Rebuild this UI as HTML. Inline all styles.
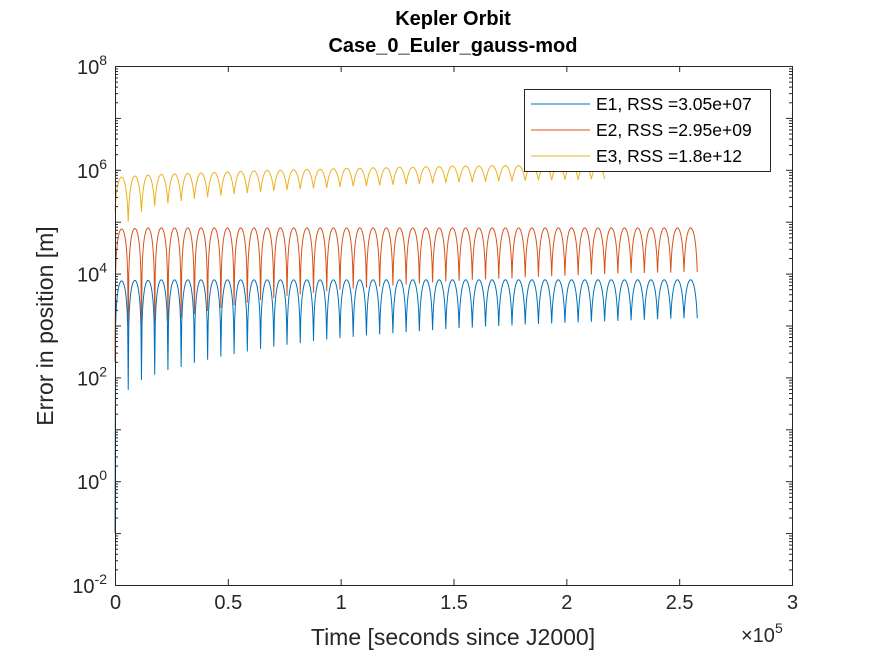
<!DOCTYPE html>
<html><head><meta charset="utf-8">
<style>
body{margin:0;background:#fff;}
svg{display:block;font-family:"Liberation Sans",sans-serif;}
</style></head>
<body>
<svg id="chart" width="875" height="656" viewBox="0 0 875 656">
  <rect width="875" height="656" fill="#fff"/>
  <text x="453" y="25" text-anchor="middle" font-size="20" font-weight="bold" fill="#000">Kepler Orbit</text>
  <text x="453" y="52" text-anchor="middle" font-size="20" font-weight="bold" fill="#000">Case_0_Euler_gauss-mod</text>
  <g id="plot"></g>
  <g id="axes"></g>
  <text x="453" y="645" text-anchor="middle" font-size="23" fill="#262626">Time [seconds since J2000]</text>
  <text x="0" y="0" transform="translate(53,326) rotate(-90)" text-anchor="middle" font-size="23" fill="#262626">Error in position [m]</text>
  <text x="741" y="642" font-size="20" fill="#262626">×10<tspan font-size="14" dy="-9">5</tspan></text>
  <g>
    <rect x="524.5" y="89.5" width="246" height="82" fill="#fff" stroke="#262626" stroke-width="1"/>
    <line x1="531" y1="104" x2="590" y2="104" stroke="#0072BD"/>
    <text x="596" y="110" font-size="17.5" fill="#000">E1, RSS =3.05e+07</text>
    <line x1="531" y1="130" x2="590" y2="130" stroke="#D95319"/>
    <text x="596" y="136" font-size="17.5" fill="#000">E2, RSS =2.95e+09</text>
    <line x1="531" y1="156" x2="590" y2="156" stroke="#EDB120"/>
    <text x="596" y="162" font-size="17.5" fill="#000">E3, RSS =1.8e+12</text>
  </g>
</svg>
<script>
// ---- data ----
const xTicks = [0, 0.5, 1, 1.5, 2, 2.5, 3];          // ×1e5 s
const xTickLabels = ["0","0.5","1","1.5","2","2.5","3"];
const yTickExps = [-2, 0, 2, 4, 6, 8];
const orbitPeriod = 5864;     // seconds
const startLog = [-1.0, 2.3, 5.2];   // log10 error at t=0 for E1,E2,E3
const e1TroughLog = [1.47,1.76,1.95,2.05,2.14,2.2,2.28,2.34,2.4,2.45,2.5,2.55,2.59,2.63,2.66,2.7,2.73,2.76,2.78,2.81,2.83,2.85,2.87,2.89,2.91,2.93,2.95,2.96,2.98,2.99,3.0,3.02,3.03,3.04,3.05,3.06,3.07,3.08,3.09,3.1,3.11,3.12,3.13,3.14];
const e1PeakLog = [3.86,3.87,3.87,3.88,3.88,3.88,3.88,3.88,3.88,3.88,3.88,3.88,3.88,3.88,3.88,3.88,3.88,3.88,3.88,3.88,3.88,3.88,3.88,3.88,3.88,3.88,3.88,3.88,3.88,3.88,3.88,3.88,3.88,3.88,3.88,3.88,3.88,3.88,3.88,3.88,3.88,3.88,3.88,3.88];
const e2TroughLog = [2.49,2.72,2.82,3.0,3.08,3.15,3.22,3.28,3.34,3.39,3.44,3.49,3.53,3.57,3.6,3.63,3.66,3.69,3.71,3.73,3.75,3.77,3.79,3.81,3.83,3.85,3.86,3.88,3.89,3.9,3.91,3.93,3.94,3.95,3.96,3.97,3.98,3.99,4.0,4.01,4.01,4.02,4.02,4.03];
const e2PeakLog = [4.86,4.87,4.88,4.88,4.88,4.88,4.88,4.88,4.88,4.88,4.88,4.88,4.88,4.88,4.88,4.88,4.88,4.88,4.88,4.88,4.88,4.88,4.88,4.88,4.88,4.88,4.88,4.88,4.88,4.88,4.88,4.88,4.88,4.88,4.88,4.88,4.88,4.88,4.88,4.88,4.88,4.88,4.88,4.88];
const e3TroughLog = [4.7,5.0,5.19,5.3,5.35,5.4,5.44,5.47,5.5,5.53,5.55,5.57,5.59,5.61,5.63,5.64,5.65,5.67,5.68,5.69,5.7,5.71,5.72,5.73,5.74,5.75,5.76,5.76,5.77,5.78,5.78,5.79,5.8,5.8,5.81,5.81,5.82];
const e3PeakLog = [5.86,5.88,5.9,5.91,5.92,5.93,5.94,5.95,5.96,5.97,5.98,5.99,5.99,6.0,6.01,6.01,6.02,6.03,6.03,6.04,6.04,6.05,6.05,6.06,6.06,6.07,6.07,6.07,6.08,6.08,6.08,6.09,6.09,6.09,6.1,6.1,6.1];
const seriesColors = ["#0072BD","#D95319","#EDB120"];

// ---- axes ----
const X0=115, X1=792, Y0=585, Y1=66;
const xScale = t => X0 + (t/3e5)*(X1-X0);
const yScale = lg => Y0 - (lg+2)/10*(Y0-Y1);
const NS="http://www.w3.org/2000/svg";
const axes=document.getElementById('axes');
const plot=document.getElementById('plot');
function mk(tag, attrs, parent){const e=document.createElementNS(NS,tag);for(const k in attrs)e.setAttribute(k,attrs[k]);parent.appendChild(e);return e;}

// series
const troughs=[e1TroughLog,e2TroughLog,e3TroughLog];
const peaks=[e1PeakLog,e2PeakLog,e3PeakLog];
const names=['series-e1','series-e2','series-e3'];
for(let s=2;s>=0;s--){
  const tr=troughs[s], pk=peaks[s];
  const n=tr.length;
  const tEnd=n*orbitPeriod;
  const pts=[];
  const step=orbitPeriod/24;
  for(let t=0;t<=tEnd+1;t+=step){
    let k=Math.min(n-1,Math.floor(t/orbitPeriod));
    const ph=(t-k*orbitPeriod)/orbitPeriod;
    const nextK=Math.min(n-1,k+1);
    const lo=ph<0.5?Math.pow(10,k===0&&t<orbitPeriod*0.5?startLog[s]:tr[k]):Math.pow(10,tr[nextK]);
    const hi=Math.pow(10,pk[k]);
    const v=lo+(hi-lo)*Math.abs(Math.sin(Math.PI*ph));
    pts.push(xScale(t).toFixed(2)+','+yScale(Math.log10(v)).toFixed(2));
  }
  const pl=mk('polyline',{points:pts.join(' '),fill:'none',stroke:seriesColors[s],'stroke-width':1},plot);
  
  
}

// box
const box=mk('rect',{x:X0+0.5,y:Y1+0.5,width:X1-X0,height:Y0-Y1,fill:'none',stroke:'#262626','stroke-width':1},axes);



xTicks.forEach((v,i)=>{
  const x=xScale(v*1e5)+0.5;
  mk('line',{x1:x,y1:Y0,x2:x,y2:Y0-6,stroke:'#262626'},axes);
  mk('line',{x1:x,y1:Y1,x2:x,y2:Y1+6,stroke:'#262626'},axes);
  const t=mk('text',{x:x,y:Y0+24,'text-anchor':'middle','font-size':20,fill:'#262626'},axes);
  t.textContent=xTickLabels[i];
  
  
});
for(let d=-2;d<8;d++){
  for(let m=1;m<10;m++){
    const y=yScale(d+Math.log10(m))+0.5;
    const len=m===1?6:3;
    mk('line',{x1:X0,y1:y,x2:X0+len,y2:y,stroke:'#262626'},axes);
    mk('line',{x1:X1,y1:y,x2:X1-len,y2:y,stroke:'#262626'},axes);
  }
}
yTickExps.forEach(e=>{
  const y=yScale(e);
  const t=mk('text',{x:X0-8,y:y+8,'text-anchor':'end','font-size':20,fill:'#262626'},axes);
  t.textContent='10';
  const sp=document.createElementNS(NS,'tspan');
  sp.setAttribute('font-size','14');sp.setAttribute('dy','-9');
  sp.textContent=String(e);
  t.appendChild(sp);
  
  
});
</script>
</body></html>
